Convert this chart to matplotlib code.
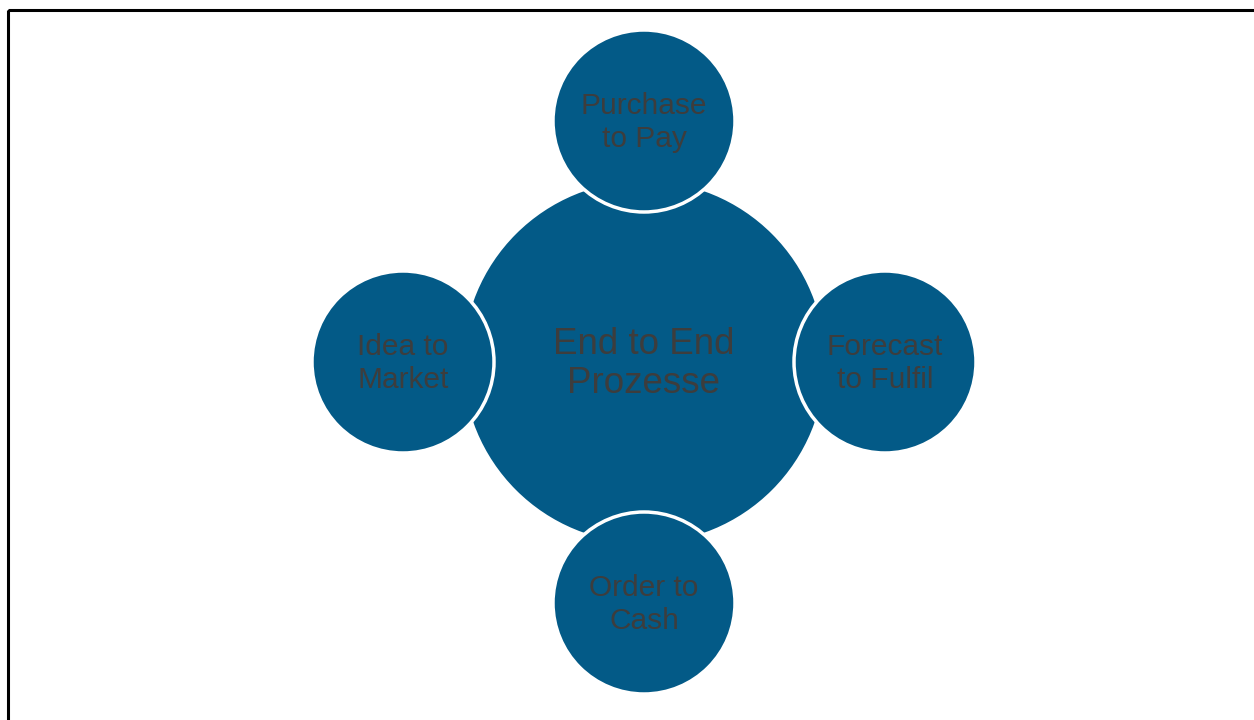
import matplotlib.pyplot as plt
from matplotlib.patches import Circle, Rectangle

plt.rcParams['font.family'] = ['Liberation Sans', 'DejaVu Sans']

# Zentrum und Teilprozesse
center_label = "End to End\nProzesse"
labels = ["Purchase\nto Pay", "Forecast\nto Fulfil", "Order to\nCash", "Idea to\nMarket"]
dx = [0, 1, 0, -1]
dy = [-1, 0, 1, 0]

blue = "#035a87"
grey = "#3d3d3d"

fig = plt.figure(figsize=(12.54, 7.2), dpi=100)
ax = fig.add_axes([0, 0, 1, 1])
ax.set_xlim(0, 1254)
ax.set_ylim(720, 0)
ax.set_aspect("equal")
ax.axis("off")

# Rahmen
ax.add_patch(Rectangle((8, 10), 1300, 800, fill=False, edgecolor="black", lw=2.2))

cx, cy = 644, 362
ax.add_patch(Circle((cx, cy), 181, facecolor=blue, edgecolor="none"))
ax.text(cx, cy + 2, center_label, ha="center", va="center", fontsize=26.5,
        color=grey, linespacing=1.15)

for lab, ox, oy in zip(labels, dx, dy):
    x, y = cx + ox * 241, cy + oy * 241
    ax.add_patch(Circle((x, y), 91, facecolor=blue, edgecolor="white", lw=2.5))
    ax.text(x, y + 1.5, lab, ha="center", va="center", fontsize=21.5,
            color=grey, linespacing=1.2)

fig.savefig("out.png", dpi=100)
